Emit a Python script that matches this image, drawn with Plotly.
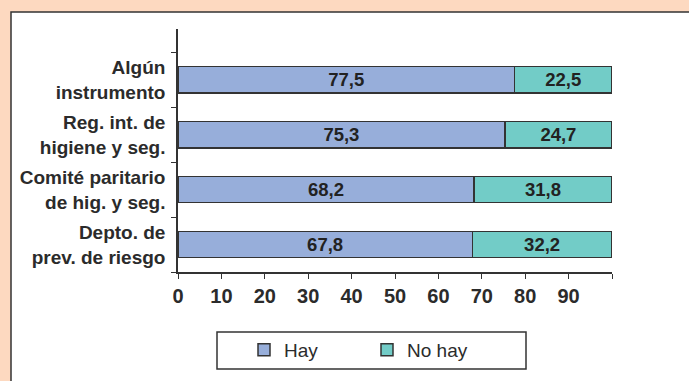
import plotly.graph_objects as go

categories = ["Depto. de<br>prev. de riesgo", "Comité paritario<br>de hig. y seg.",
              "Reg. int. de<br>higiene y seg.", "Algún<br>instrumento"]
positions = [0.5, 1.5, 2.5, 3.5]
hay = [67.8, 68.2, 75.3, 77.5]
no_hay = [32.2, 31.8, 24.7, 22.5]
x_ticks = [0, 10, 20, 30, 40, 50, 60, 70, 80, 90, 100]
x_labels = ["0", "10", "20", "30", "40", "50", "60", "70", "80", "90", ""]

FONT = "Liberation Sans, Arial, sans-serif"
DARK = "#2b2b2b"
PW, PH = 434, 243  # plot area size in px (for paper-coordinate decorations)

def px_x(x):
    return (x - 178) / PW

def px_y(y):
    return (272 - y) / PH

fig = go.Figure()
for name, vals, col in [("Hay", hay, "#97AEDA"), ("No hay", no_hay, "#72CCC7")]:
    fig.add_trace(go.Bar(
        name=name, y=positions, x=vals, orientation="h", width=0.48,
        marker=dict(color=col, line=dict(color="#333333", width=1.5)),
        texttemplate="%{x:.1f}", textposition="inside", insidetextanchor="middle",
        textfont=dict(family=FONT, size=20, color="#222222", weight="bold"),
        textangle=0,
    ))

fig.update_layout(
    barmode="stack",
    separators=",.",
    width=689, height=381,
    margin=dict(l=178, r=77, t=29, b=109),
    paper_bgcolor="#FDD9C0",
    plot_bgcolor="white",
    font=dict(family=FONT, color=DARK),
    showlegend=True,
    legend=dict(orientation="h", x=px_x(244), xanchor="left", y=px_y(350), yanchor="middle",
                bgcolor="rgba(0,0,0,0)", borderwidth=0,
                entrywidth=78, font=dict(family=FONT, size=19, color=DARK),
                traceorder="normal"),
    shapes=[
        dict(type="rect", xref="paper", yref="paper", layer="below",
             x0=px_x(11), x1=px_x(720), y0=px_y(420), y1=px_y(12),
             fillcolor="white", line=dict(color="#333333", width=1.5)),
        dict(type="rect", xref="paper", yref="paper", layer="above",
             x0=px_x(217), x1=px_x(526), y0=px_y(369), y1=px_y(332),
             fillcolor="rgba(0,0,0,0)", line=dict(color="#333333", width=1.5)),
    ],
)
fig.update_xaxes(range=[0, 100], tickvals=x_ticks, ticktext=x_labels,
                 showgrid=False, zeroline=False, showline=True, linecolor="#333333",
                 linewidth=1.5, ticks="outside", ticklen=5, tickcolor="#333333",
                 tickfont=dict(family=FONT, size=20, color=DARK, weight="bold"))
fig.update_yaxes(range=[0, 4.42], tickvals=positions, ticktext=categories,
                 showgrid=False, zeroline=False, showline=True, linecolor="#333333",
                 linewidth=1.5, ticks="", ticklabelstandoff=7,
                 tickfont=dict(family=FONT, size=19, color=DARK, weight="bold"),
                 minor=dict(tickmode="linear", tick0=0, dtick=1, ticks="outside",
                            ticklen=5, tickcolor="#333333", showgrid=False))

fig.write_html("out.html", config={"displayModeBar": False},
               post_script="document.body.style.margin='0';")
